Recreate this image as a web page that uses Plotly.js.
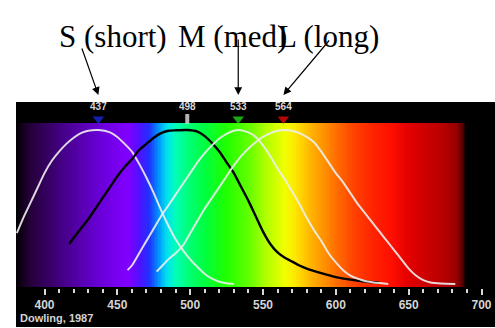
<!DOCTYPE html>
<html><head><meta charset="utf-8">
<title>Cone spectra</title>
<script src="https://cdn.plot.ly/plotly-3.0.1.min.js"></script>
<style>html,body{margin:0;padding:0;background:#fff}#plotdiv{width:495px;height:328px}</style>
</head><body><div id="plotdiv"></div>
<script>
// tick labels and names
const tickWl     = [400, 450, 500, 550, 600, 650, 700];
const tickLabels = ['400', '450', '500', '550', '600', '650', '700'];
const minorWl    = [410,420,430,440,460,470,480,490,510,520,530,540,560,570,580,590,610,620,630,640,660,670,680,690];
const coneNames  = ['S (short)', 'M (med)', 'L (long)'];
const conePeaks  = [437, 533, 564];
const peakWl     = [437, 498, 533, 564];
const peakLabels = ['437', '498', '533', '564'];

// curves (wavelength nm, normalised absorbance)
const sWl  = [381,385,390,395,400,405,410,415,420,425,430,437,445,450,455,460,465,470,475,480,485,490,495,500,505,510,515,520,525,530];
const sVal = [0.33,0.42,0.52,0.62,0.72,0.80,0.86,0.91,0.95,0.98,0.995,1.0,0.985,0.955,0.91,0.86,0.78,0.69,0.59,0.48,0.38,0.29,0.22,0.16,0.11,0.065,0.035,0.015,0.005,0];
const rodWl  = [417,420,425,430,435,440,445,450,455,460,465,470,475,480,485,490,498,505,510,515,520,525,530,535,540,545,550,555,560,565,570,575,580,590,600,610,620,630];
const rodVal = [0.26,0.30,0.36,0.42,0.49,0.56,0.63,0.70,0.76,0.81,0.87,0.91,0.95,0.98,0.995,0.998,1.0,0.99,0.96,0.915,0.86,0.79,0.72,0.63,0.54,0.44,0.34,0.26,0.205,0.17,0.145,0.12,0.10,0.07,0.045,0.028,0.016,0.008];
const mWl  = [457,460,465,470,475,480,485,490,495,500,505,510,515,520,525,530,533,540,545,550,555,560,565,570,575,580,585,590,595,600,605,610,615,620,625,630,636];
const mVal = [0.09,0.12,0.20,0.28,0.36,0.44,0.51,0.58,0.65,0.72,0.79,0.85,0.90,0.945,0.975,0.995,1.0,0.985,0.955,0.90,0.83,0.75,0.68,0.60,0.52,0.43,0.35,0.28,0.20,0.14,0.09,0.055,0.035,0.02,0.012,0.006,0];
const lWl  = [477,480,485,490,495,500,505,510,515,520,525,530,535,540,545,550,555,560,564,570,575,580,585,590,595,600,605,610,615,620,625,630,635,640,645,650,655,660,665,672,682];
const lVal = [0.08,0.11,0.16,0.20,0.25,0.33,0.41,0.49,0.56,0.63,0.70,0.77,0.83,0.88,0.92,0.955,0.98,0.995,1.0,0.995,0.98,0.955,0.92,0.86,0.79,0.72,0.66,0.59,0.52,0.46,0.40,0.34,0.28,0.22,0.16,0.10,0.055,0.025,0.01,0.003,0];

// visible spectrum colour stops (wavelength -> colour)
const specWl    = [380.4,385,392,400,410,420,430,440,450,458,465,472,478,484,490,500,510,525,540,552,565,572,582,592,602,613,625,637,650,662,675,683,687,689.5];
const specColor = ['#000000','#14001e','#280040','#32005a','#42007e','#5000a0','#5e00c0','#6c00dc','#7800f0','#8000ff','#5010ff','#2030ff','#0090ff','#00e0f0','#00ffb8','#00ff70','#00ff40','#20ff00','#60ff00','#b0ff00','#f0ff00','#ffe800','#ffb800','#ff9000','#ff6800','#ff4000','#ff2400','#ff1000','#e40000','#cc0000','#b40000','#980000','#500000','#000000'];

const wMin = specWl[0], wMax = specWl[specWl.length - 1];
const colorscale = specWl.map((w, i) => [(w - wMin) / (wMax - wMin), specColor[i]]);
const bandWl = [];
for (let w = 380.5; w < 690; w += 1) bandWl.push(w);
const bold = s => '<b>' + s + '</b>';
const whiteLine = { color: 'rgba(238,238,238,0.9)', width: 2, shape: 'spline', smoothing: 0.6 };

const traces = [
  { type: 'bar', x: bandWl, y: bandWl.map(() => 1.065), base: -0.0195, width: 1.05,
    marker: { color: bandWl.map(w => Math.min(wMax, Math.max(wMin, w))), colorscale: colorscale, cmin: wMin, cmax: wMax, line: { width: 0 } },
    hoverinfo: 'skip' },
  { type: 'scatter', mode: 'lines', x: sWl, y: sVal, line: whiteLine },
  { type: 'scatter', mode: 'lines', x: rodWl, y: rodVal, line: { color: '#000000', width: 2.4, shape: 'spline', smoothing: 0.6 } },
  { type: 'scatter', mode: 'lines', x: mWl, y: mVal, line: whiteLine },
  { type: 'scatter', mode: 'lines', x: lWl, y: lVal, line: whiteLine },
  { type: 'scatter', mode: 'markers', x: peakWl, y: peakWl.map(() => 1.072),
    marker: { symbol: ['triangle-down', 'line-ns', 'triangle-down', 'triangle-down'], size: [10, 7, 10, 10],
      color: ['#1a2cff', '#ffffff', '#22f020', '#ff0808'],
      line: { color: ['#1a2cff', '#ffffff', '#22f020', '#ff0808'], width: [0, 4, 0, 0] } } },
  { type: 'scatter', mode: 'text', x: peakWl, y: peakWl.map(() => 1.143), text: peakLabels.map(bold),
    textfont: { family: 'Liberation Sans', size: 10, color: '#d8d8d8' } }
];

// plot area: x 16..495 px, y 102..288 px (height 186)
const arrowOffsets = [[-17, -48], [0, -57], [47, -56]];
const labelX = [0.0866, 0.452, 0.763];
const annotations = [];
coneNames.forEach((name, i) => {
  annotations.push({ xref: 'paper', yref: 'paper', x: labelX[i], y: 1.457, text: name, showarrow: false,
    font: { family: 'Liberation Serif', size: 31, color: '#000000' } });
  annotations.push({ xref: 'x', yref: 'paper', x: conePeaks[i], y: 1.0376, text: '', showarrow: true,
    ax: arrowOffsets[i][0], ay: arrowOffsets[i][1], arrowhead: 2, arrowsize: 1.3, arrowwidth: 1.2, arrowcolor: '#000000', standoff: 0 });
});
annotations.push({ xref: 'paper', yref: 'paper', x: 0.004, y: -0.1613, xanchor: 'left', yanchor: 'middle',
  text: bold('Dowling, 1987'), showarrow: false, font: { family: 'Liberation Sans', size: 11, color: '#d4d4d4' } });

const layout = {
  width: 495, height: 328,
  margin: { l: 16, r: 0, t: 102, b: 40, pad: 0 },
  paper_bgcolor: '#ffffff', plot_bgcolor: '#000000',
  showlegend: false, bargap: 0,
  shapes: [{ type: 'rect', xref: 'paper', yref: 'paper', x0: 0, x1: 1, y0: -0.2097, y1: 0,
    fillcolor: '#000000', line: { width: 0 }, layer: 'below' }],
  xaxis: { range: [380.43, 709.27], showgrid: false, zeroline: false, showline: false,
    tickmode: 'array', tickvals: tickWl, ticktext: tickLabels.map(bold), ticks: 'outside', ticklen: 6, tickwidth: 2, tickcolor: '#d8d8d8',
    tickfont: { family: 'Liberation Sans', size: 12, color: '#d4d4d4' },
    minor: { tickmode: 'array', tickvals: minorWl, ticks: 'outside', ticklen: 4, tickwidth: 2, tickcolor: '#d8d8d8' } },
  yaxis: { range: [-0.026, 1.1818], visible: false, showgrid: false, zeroline: false },
  annotations: annotations
};

Plotly.newPlot('plotdiv', traces, layout, { staticPlot: true });
</script>
</body></html>
